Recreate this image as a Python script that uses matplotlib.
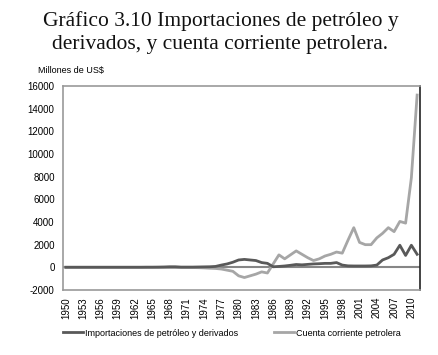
import numpy as np
import matplotlib
matplotlib.use('Agg')
import matplotlib.pyplot as plt

# Years 1950-2011
years = np.arange(1950, 2012)

# Importaciones de petróleo y derivados (millones de US$)
importaciones = [
    10, 10, 10, 10, 10, 10, 10, 10, 10, 10,          # 1950-1959
    10, 10, 10, 10, 15, 15, 20, 30, 50, 50,          # 1960-1969
    20, 20, 20, 30, 40, 50, 80, 200, 300, 450,       # 1970-1979
    650, 700, 650, 600, 420, 350, 50, 80, 120, 180,  # 1980-1989
    250, 220, 260, 300, 320, 350, 350, 420, 200, 130,  # 1990-1999
    120, 120, 120, 130, 200, 650, 850, 1150, 1950, 1050,  # 2000-2009
    1950, 1150,                                      # 2010-2011
]

# Cuenta corriente petrolera (millones de US$)
cuenta = [
    -10, -10, -10, -10, -10, -10, -10, -10, -10, -10,
    -10, -10, -10, -10, -10, -10, -10, -10, -20, -20,
    -20, -20, -20, -30, -50, -80, -100, -150, -250, -350,
    -750, -900, -750, -600, -400, -500, 300, 1100, 750, 1100,
    1450, 1150, 850, 600, 750, 1000, 1150, 1350, 1250, 2400,
    3500, 2200, 2000, 2000, 2600, 3000, 3500, 3150, 4050, 3900,
    7900, 15200,
]

tick_years = list(range(1950, 2011, 3))
y_ticks = list(range(-2000, 16001, 2000))

dark = '#595959'
light = '#a6a6a6'

fig = plt.figure(figsize=(4.38, 3.55), dpi=100)
ax = fig.add_axes([63 / 438, 1 - 290 / 355, 357 / 438, 204 / 355])

ax.axhline(0, color='#868686', lw=1.5, zorder=1)
ax.plot(years, importaciones, color=dark, lw=2, label='Importaciones de petróleo y derivados', zorder=3)
ax.plot(years, cuenta, color=light, lw=2, label='Cuenta corriente petrolera', zorder=2)

ax.set_xlim(1949.5, 2011.5)
ax.set_ylim(-2000, 16000)
ax.set_yticks(y_ticks)
ax.set_yticklabels([str(v) for v in y_ticks], fontsize=7, family='Liberation Sans')
ax.set_xticks(tick_years)
ax.set_xticklabels([str(v) for v in tick_years], rotation=90, fontsize=7,
                   family='Liberation Sans')
ax.tick_params(length=0, pad=6)
ax.tick_params(axis='x', pad=5)

for side in ['left', 'top', 'bottom']:
    ax.spines[side].set_color('#999999')
    ax.spines[side].set_linewidth(1.2)
ax.spines['right'].set_color('#222222')
ax.spines['right'].set_linewidth(1.2)

fig.text(0.503, 1 - 21 / 355, 'Gráfico 3.10 Importaciones de petróleo y',
         ha='center', va='center', fontsize=15.5,
         family='Liberation Serif', color='#111111')
fig.text(0.503, 1 - 45 / 355, 'derivados, y cuenta corriente petrolera.',
         ha='center', va='center', fontsize=15.5,
         family='Liberation Serif', color='#111111')
fig.text(38 / 438, 1 - 71 / 355, 'Millones de US$', ha='left', va='center',
         fontsize=6.5, family='Liberation Sans')

leg = fig.legend(loc='center left', bbox_to_anchor=(55 / 438, 1 - 333 / 355),
                 ncol=2, frameon=False, handlelength=2.2,
                 handletextpad=0.2, columnspacing=4.0,
                 prop={'family': 'Liberation Sans', 'size': 6.5})

fig.savefig('out.png', dpi=100)
